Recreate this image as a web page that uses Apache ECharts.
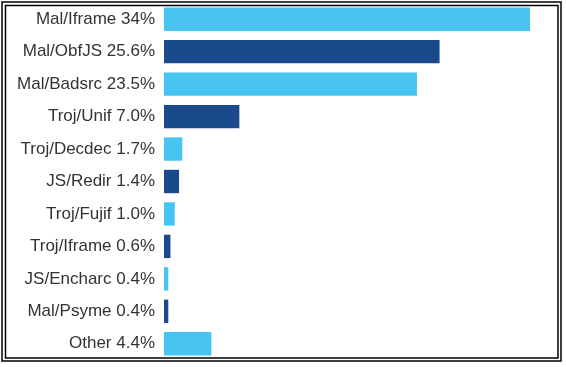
<!DOCTYPE html>
<html>
<head>
<meta charset="utf-8">
<script src="https://cdn.jsdelivr.net/npm/echarts@6/dist/echarts.min.js"></script>
<style>
html,body{margin:0;padding:0;background:#fff;}
#c{width:566px;height:367px;}
</style>
</head>
<body>
<div id="c"></div>
<script>
const categories = ["Mal/Iframe 34%","Mal/ObfJS 25.6%","Mal/Badsrc 23.5%","Troj/Unif 7.0%","Troj/Decdec 1.7%","JS/Redir 1.4%","Troj/Fujif 1.0%","Troj/Iframe 0.6%","JS/Encharc 0.4%","Mal/Psyme 0.4%","Other 4.4%"];
const values = [34, 25.6, 23.5, 7.0, 1.7, 1.4, 1.0, 0.6, 0.4, 0.4, 4.4];

const LIGHT = '#47C5F0', DARK = '#1B4A8C';
const chart = echarts.init(document.getElementById('c'), null, {renderer:'canvas'});
chart.setOption({
  animation: false,
  backgroundColor: '#fff',
  grid: {left: 164, right: 36, top: 3, bottom: 7, containLabel: false},
  xAxis: {type: 'value', min: 0, max: 34, show: false},
  yAxis: {
    type: 'category', data: categories, inverse: true,
    axisLine: {show: false}, axisTick: {show: false},
    axisLabel: {margin: 9, color: '#333', fontSize: 17, fontFamily: 'Liberation Sans, Arial, sans-serif'}
  },
  series: [{
    type: 'bar', data: values, barCategoryGap: '28%',
    itemStyle: {color: p => (p.dataIndex % 2 === 0 ? LIGHT : DARK)}
  }],
  graphic: [
    {type: 'rect', shape: {x: 2, y: 2, width: 559, height: 359}, style: {fill: 'none', stroke: '#000', lineWidth: 1.5}, silent: true},
    {type: 'rect', shape: {x: 5.5, y: 5.5, width: 552.5, height: 352.5}, style: {fill: 'none', stroke: '#000', lineWidth: 1.5}, silent: true}
  ]
});
</script>
</body>
</html>
